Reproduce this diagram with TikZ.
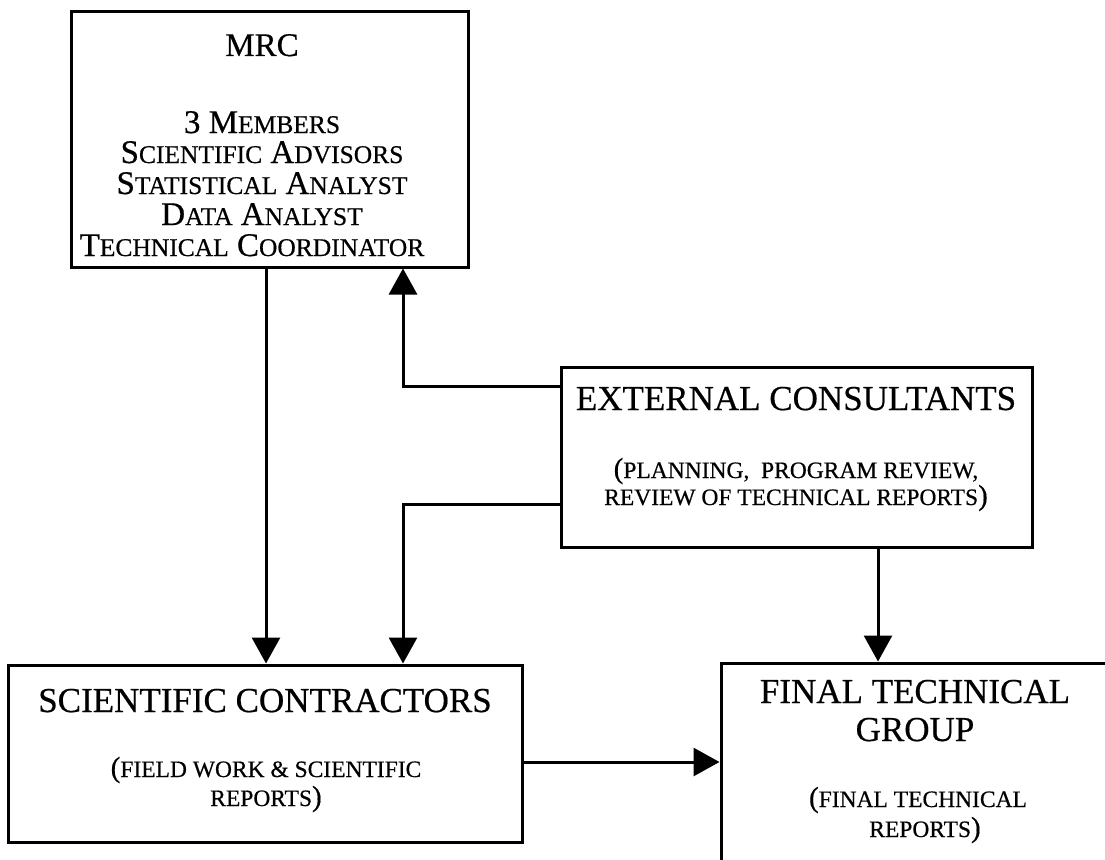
\documentclass[tikz,border=0pt]{standalone}
\usepackage{fontspec}
\setmainfont{Liberation Serif}[FakeBold=0.5]
\usetikzlibrary{arrows.meta}

% type sizes: headings, small-cap lines, brackets, MRC roster
\newcommand\fhead{\fontsize{35pt}{40pt}\selectfont}
\newcommand\fsmall{\fontsize{23.5pt}{28pt}\selectfont}
\newcommand\fparen{\fontsize{29pt}{30pt}\selectfont}
\newcommand\fmrc{\fontsize{33pt}{36pt}\selectfont}
\newcommand\fmrcsc[1]{{\fontsize{25.5pt}{28pt}\selectfont #1}}

\begin{document}
\begin{tikzpicture}[x=1pt,y=-1pt,
  box/.style={draw, line width=3pt, rectangle, inner sep=0pt},
  lbl/.style={inner sep=0pt, anchor=base},
  arr/.style={line width=3pt, -{Triangle[width=28pt,length=26pt]}},
]
\fill[white] (0,0) rectangle (1105,859);
\useasboundingbox (0,0) rectangle (1105,859);
\clip (0,0) rectangle (1105,859);

% boxes
\node[box, minimum width=397pt, minimum height=255pt] (mrc) at (269.5,139.5) {};
\node[box, minimum width=471pt, minimum height=180pt] (ext) at (796.5,457) {};
\node[box, minimum width=514pt, minimum height=177pt] (sci) at (265,753.5) {};
\node[box, minimum width=391pt, minimum height=222pt] (fin) at (916.5,774) {};

% MRC roster
\node[lbl] (mrcA) at (262,56) {\fmrc MRC};
\node[lbl] (mrcB) at (262,133) {\fmrc 3 M\fmrcsc{EMBERS}};
\node[lbl] (mrcC) at (262,163) {\fmrc S\fmrcsc{CIENTIFIC} A\fmrcsc{DVISORS}};
\node[lbl] (mrcD) at (262,194) {\fmrc S\fmrcsc{TATISTICAL} A\fmrcsc{NALYST}};
\node[lbl] (mrcE) at (262,225) {\fmrc D\fmrcsc{ATA} A\fmrcsc{NALYST}};
\node[lbl] (mrcF) at (252,256) {\fmrc T\fmrcsc{ECHNICAL} C\fmrcsc{OORDINATOR}};

% external consultants
\node[lbl] (extA) at (796,410) {\fhead EXTERNAL CONSULTANTS};
\node[lbl] (extB) at (796,478) {\fparen (\fsmall PLANNING, \ PROGRAM REVIEW,};
\node[lbl] (extC) at (796,505) {\fsmall REVIEW OF TECHNICAL REPORTS\fparen )};

% scientific contractors
\node[lbl] (sciA) at (265,712) {\fhead SCIENTIFIC CONTRACTORS};
\node[lbl] (sciB) at (266,777) {\fparen (\fsmall FIELD WORK \& SCIENTIFIC};
\node[lbl] (sciC) at (266,806) {\fsmall REPORTS\fparen )};

% final technical group
\node[lbl] (finA) at (915,703) {\fhead FINAL TECHNICAL};
\node[lbl] (finB) at (915,741) {\fhead GROUP};
\node[lbl] (finC) at (918,807) {\fparen (\fsmall FINAL TECHNICAL};
\node[lbl] (finD) at (925,837) {\fsmall REPORTS\fparen )};

% connector routes
\coordinate (mx) at (266,0);
\coordinate (ux) at (403,386);
\coordinate (dx) at (403,504);
\coordinate (ex) at (878,0);
\coordinate (sy) at (0,762);

\draw[arr] (mx |- mrc.south) -- (mx |- sci.north);
\draw[arr] (ext.west |- ux) -| (ux |- mrc.south);
\draw[arr] (ext.west |- dx) -| (dx |- sci.north);
\draw[arr] (ex |- ext.south) -- (ex |- fin.north);
\draw[arr] (sci.east |- sy) -- (fin.west |- sy);
\end{tikzpicture}
\end{document}
